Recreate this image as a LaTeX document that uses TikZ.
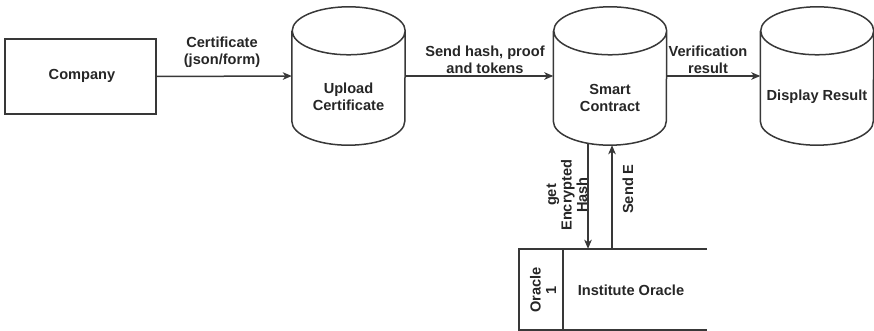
\documentclass[tikz,border=0pt]{standalone}
\usepackage{fontspec}
\setmainfont{Liberation Sans}
\usetikzlibrary{arrows.meta}
\newcommand\cylshape[1]{%
  \draw[line] ([yshift=-24pt]#1.north west) -- ([yshift=24pt]#1.south west)
    arc[start angle=180,end angle=360,x radius=56.5pt,y radius=24pt]
    -- ([yshift=-24pt]#1.north east)
    arc[start angle=0,end angle=360,x radius=56.5pt,y radius=24pt];}
\begin{document}
\begin{tikzpicture}[x=1pt,y=-1pt,
  line/.style={draw=black!78, line width=1.5pt},
  txt/.style={font=\fontsize{14.6}{17}\selectfont\bfseries, text=black!85, align=center, inner sep=0pt},
  vtxt/.style={font=\fontsize{14.6}{15.5}\selectfont\bfseries, text=black!85, align=center, inner sep=0pt, rotate=90},
  arr/.style={line, -{Stealth[length=9pt,width=7.5pt,inset=2.5pt]}},
  box/.style={line, minimum width=151pt, minimum height=75pt, inner sep=0pt},
  cylnode/.style={minimum width=113pt, minimum height=138pt, inner sep=0pt}
]
\useasboundingbox (0,0) rectangle (874,331);
% company
\node[box] (comp) at (80.5,76.5) {};
\node[txt] (compT) at (82,76) {Company};
% cylinders
\node[cylnode] (up) at (348.5,76) {};
\node[cylnode] (sc) at (610,76) {};
\node[cylnode] (disp) at (817,76) {};
\cylshape{up}
\cylshape{sc}
\cylshape{disp}
\node[txt] (upT) at (348.5,97) {Upload\\Certificate};
\node[txt] (scT) at (610,97.5) {Smart\\Contract};
\node[txt] (dispT) at (817,97) {Display Result};
% pool
\node[minimum width=188pt, minimum height=81pt, inner sep=0pt] (pool) at (613,289.5) {};
\draw[line] (pool.north east) -- (pool.north west) -- (pool.south west) -- (pool.south east);
\draw[line] ([xshift=44pt]pool.north west) -- ([xshift=44pt]pool.south west);
\node[vtxt] (poolL) at (543,290) {Oracle\\1};
\node[txt] (poolT) at (631,290) {Institute Oracle};
% arrows
\draw[arr] (comp.east) -- (up.west);
\draw[arr] (up.east) -- (sc.west);
\draw[arr] (sc.east) -- (disp.west);
\draw[arr] ([xshift=-22pt,yshift=2pt]sc.south) -- ([xshift=-22pt]sc.south |- pool.north);
\draw[arr] ([xshift=2pt]sc.south |- pool.north) -- ([xshift=2pt]sc.south);
% labels
\node[txt] (l1) at (222,52.5) {Certificate\\(json/form)};
\node[txt] (l2) at (485,60) {Send hash, proof\\and tokens};
\node[txt] (l3) at (708,60) {Verification\\result};
\node[vtxt] (l4) at (567,195) {get\\Encrypted\\Hash};
\node[vtxt] (l5) at (628,189) {Send E};
\end{tikzpicture}
\end{document}
